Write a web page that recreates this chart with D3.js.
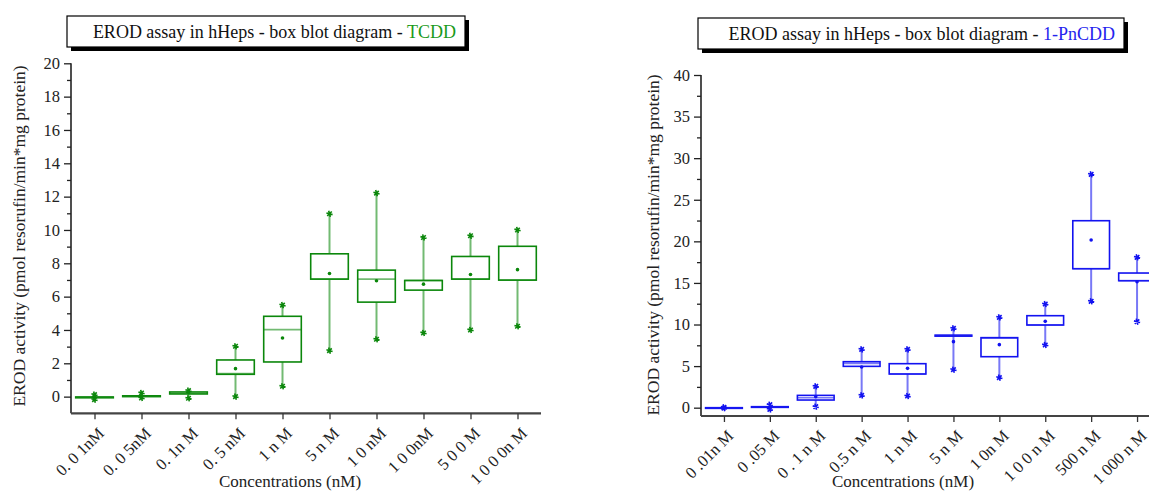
<!DOCTYPE html>
<html>
<head>
<meta charset="utf-8">
<script src="https://cdn.jsdelivr.net/npm/d3@7"></script>
<style>
  body { margin: 0; background: #fff; }
</style>
</head>
<body>
<svg id="chart" width="1149" height="493"></svg>
<script>
// TCDD panel values (pmol resorufin/min*mg protein)
const tcddLabels = ["0. 0 1nM", "0. 0 5nM", "0. 1n M", "0. 5 nM", "1  n M", "5  n M", "1 0 nM", "1 0 0nM", "5 0 0 M", "1 0 0 0n M"];
const tcddMin    = [-0.18, -0.08, -0.10, 0.00, 0.62, 2.76, 3.44, 3.82, 4.00, 4.22];
const tcddQ1     = [-0.07, 0.00, 0.16, 1.34, 2.08, 7.05, 5.67, 6.39, 7.05, 6.99];
const tcddMedian = [-0.04, 0.02, 0.20, 1.38, 4.02, 7.05, 7.05, 6.97, 7.05, 6.99];
const tcddQ3     = [-0.02, 0.05, 0.28, 2.20, 4.82, 8.57, 7.59, 6.97, 8.41, 9.02];
const tcddMax    = [0.12, 0.22, 0.36, 3.02, 5.49, 10.97, 12.21, 9.55, 9.65, 10.00];
const tcddMean   = [-0.04, 0.04, 0.26, 1.68, 3.52, 7.39, 6.95, 6.75, 7.33, 7.62];

// 1-PnCDD panel values
const pnLabels = ["0 .01n M", "0 .05 M", "0 . 1  n M", "0.5 n M", "1 n M", "5  n M", "1 0n M", "1 0 0 n M", "500  n M", "1 000  n M"];
const pnMin    = [-0.05, -0.20, 0.12, 1.48, 1.40, 4.57, 3.61, 7.54, 12.79, 10.34];
const pnQ1     = [-0.08, 0.04, 0.92, 4.97, 4.05, 8.60, 6.13, 9.94, 16.71, 15.27];
const pnMedian = [-0.04, 0.08, 1.20, 5.33, 4.05, 8.66, 8.34, 9.94, 16.71, 15.27];
const pnQ3     = [0.00, 0.12, 1.48, 5.53, 5.29, 8.72, 8.42, 11.06, 22.48, 16.19];
const pnMax    = [0.05, 0.36, 2.57, 7.01, 7.01, 9.54, 10.86, 12.46, 28.06, 18.08];
const pnMean   = [-0.02, 0.10, 1.32, 4.89, 4.73, 7.94, 7.58, 10.38, 20.16, 15.15];

const FONT = '"Liberation Serif", "Times New Roman", Times, "DejaVu Serif", serif';
const svg = d3.select("#chart").style("font-family", FONT);

function drawPanel(p) {
  const g = svg.append("g");
  const rows = p.labels.map((l, i) => ({
    label: l, min: p.min[i], q1: p.q1[i], med: p.median[i], q3: p.q3[i], max: p.max[i], mean: p.mean[i]
  }));

  const x = d3.scalePoint().domain(p.labels).range([p.left, p.right]).padding(0.5);
  const y = d3.scaleLinear().domain(p.yDomain).range([p.bottom, p.top]);
  const bw = x.step() * 0.8;

  // whiskers
  g.selectAll("line.whisker")
    .data(rows)
    .join("line")
    .attr("class", "whisker")
    .attr("x1", d => x(d.label))
    .attr("x2", d => x(d.label))
    .attr("y1", d => y(d.min))
    .attr("y2", d => y(d.max))
    .attr("stroke", p.light)
    .attr("stroke-width", 2);

  // boxes
  g.selectAll("rect.box")
    .data(rows)
    .join("rect")
    .attr("class", "box")
    .attr("x", d => x(d.label) - bw / 2)
    .attr("width", bw)
    .attr("y", d => y(d.q3))
    .attr("height", d => Math.max(0.5, y(d.q1) - y(d.q3)))
    .attr("fill", "#fff")
    .attr("stroke", p.color)
    .attr("stroke-width", 1.6);

  // median lines
  g.selectAll("line.median")
    .data(rows)
    .join("line")
    .attr("class", "median")
    .attr("x1", d => x(d.label) - bw / 2)
    .attr("x2", d => x(d.label) + bw / 2)
    .attr("y1", d => y(d.med))
    .attr("y2", d => y(d.med))
    .attr("stroke", p.light)
    .attr("stroke-width", 1.6);

  // mean dots
  g.selectAll("circle.mean")
    .data(rows)
    .join("circle")
    .attr("class", "mean")
    .attr("cx", d => x(d.label))
    .attr("cy", d => y(d.mean))
    .attr("r", 1.8)
    .attr("fill", p.color);

  // min / max markers
  const star = d3.symbol().type(d3.symbolAsterisk).size(28);
  const ends = rows.flatMap(d => [{ label: d.label, v: d.min }, { label: d.label, v: d.max }]);
  g.selectAll("path.end")
    .data(ends)
    .join("path")
    .attr("class", "end")
    .attr("transform", d => `translate(${x(d.label)},${y(d.v)}) rotate(45)`)
    .attr("d", star)
    .attr("fill", "none")
    .attr("stroke", p.color)
    .attr("stroke-width", 1.6);

  // y axis, major + minor ticks
  const majors = d3.range(0, p.yDomain[1] + 0.001, p.yStep);
  const minors = d3.range(p.yStep / 2, p.yDomain[1], p.yStep);
  g.append("g")
    .attr("transform", `translate(${p.left},0)`)
    .call(d3.axisLeft(y).tickValues(minors).tickSize(4).tickSizeOuter(0).tickFormat(""))
    .call(a => a.select(".domain").remove())
    .selectAll("line").attr("stroke", "#222").attr("stroke-width", 1.3);
  const ya = g.append("g")
    .attr("transform", `translate(${p.left},0)`)
    .call(d3.axisLeft(y).tickValues(majors).tickSize(7).tickPadding(4).tickSizeOuter(0))
    .attr("font-family", FONT);
  ya.select(".domain").attr("stroke", "#222").attr("stroke-width", 1.6)
    .attr("d", `M0,${p.top}V${p.bottom}`);
  ya.selectAll("line").attr("stroke", "#222").attr("stroke-width", 1.3);
  ya.selectAll("text").style("font-size", "16.5px").style("font-family", FONT).attr("fill", "#222");

  // x axis
  const xa = g.append("g")
    .attr("transform", `translate(0,${p.bottom})`)
    .call(d3.axisBottom(x).tickSize(6).tickSizeOuter(0))
    .attr("font-family", FONT);
  xa.select(".domain").attr("stroke", "#444").attr("stroke-width", 2.2)
    .attr("d", `M${p.left},0H${p.axisEnd}`);
  xa.selectAll("line").attr("stroke", "#333").attr("stroke-width", 1.3);
  xa.selectAll("text")
    .style("font-size", "16.5px")
    .style("font-family", FONT)
    .attr("fill", "#222")
    .style("text-anchor", "end")
    .attr("y", 0)
    .attr("dy", 0)
    .attr("transform", "translate(10,21) rotate(-45)");

  // axis titles
  g.append("text")
    .attr("x", p.xTitleX)
    .attr("y", 487)
    .attr("text-anchor", "middle")
    .attr("fill", "#222")
    .style("font-family", FONT)
    .style("font-size", "17px")
    .text("Concentrations (nM)");
  g.append("text")
    .attr("transform", `translate(${p.yTitleX},${p.yTitleY}) rotate(-90)`)
    .attr("text-anchor", "middle")
    .attr("fill", "#222")
    .style("font-family", FONT)
    .style("font-size", "17.5px")
    .text("EROD activity (pmol resorufin/min*mg protein)");

  // framed title with drop shadow
  const t = p.titleBox;
  g.append("rect")
    .attr("x", t.x + 4).attr("y", t.y + 4).attr("width", t.w).attr("height", t.h)
    .attr("fill", "#000");
  g.append("rect")
    .attr("x", t.x).attr("y", t.y).attr("width", t.w).attr("height", t.h)
    .attr("fill", "#fff").attr("stroke", "#000").attr("stroke-width", 1.2);
  const tt = g.append("text")
    .attr("x", t.x + t.w - 9)
    .attr("y", t.y + 22)
    .attr("text-anchor", "end")
    .style("font-family", FONT)
    .style("font-size", "18px");
  tt.append("tspan").attr("fill", "#111").text("EROD assay in hHeps - box blot diagram - ");
  tt.append("tspan").attr("fill", p.titleColor).text(p.name);
}

drawPanel({
  name: "TCDD",
  labels: tcddLabels, min: tcddMin, q1: tcddQ1, median: tcddMedian, q3: tcddQ3, max: tcddMax, mean: tcddMean,
  left: 71, right: 541, axisEnd: 541, top: 63.3, bottom: 413.3,
  yDomain: [-1, 20], yStep: 2,
  color: "#0b870b", light: "rgba(20,140,20,0.6)", titleColor: "#1a9a1a",
  xTitleX: 290, yTitleX: 25, yTitleY: 236,
  titleBox: { x: 67, y: 16, w: 398, h: 31 }
});

drawPanel({
  name: "1-PnCDD",
  labels: pnLabels, min: pnMin, q1: pnQ1, median: pnMedian, q3: pnQ3, max: pnMax, mean: pnMean,
  left: 701, right: 1160, axisEnd: 1160, top: 75, bottom: 416,
  yDomain: [-1, 40], yStep: 5,
  color: "#1212f0", light: "rgba(30,30,240,0.6)", titleColor: "#2424ee",
  xTitleX: 903, yTitleX: 659, yTitleY: 245,
  titleBox: { x: 698, y: 18, w: 426, h: 31 }
});
</script>
</body>
</html>
